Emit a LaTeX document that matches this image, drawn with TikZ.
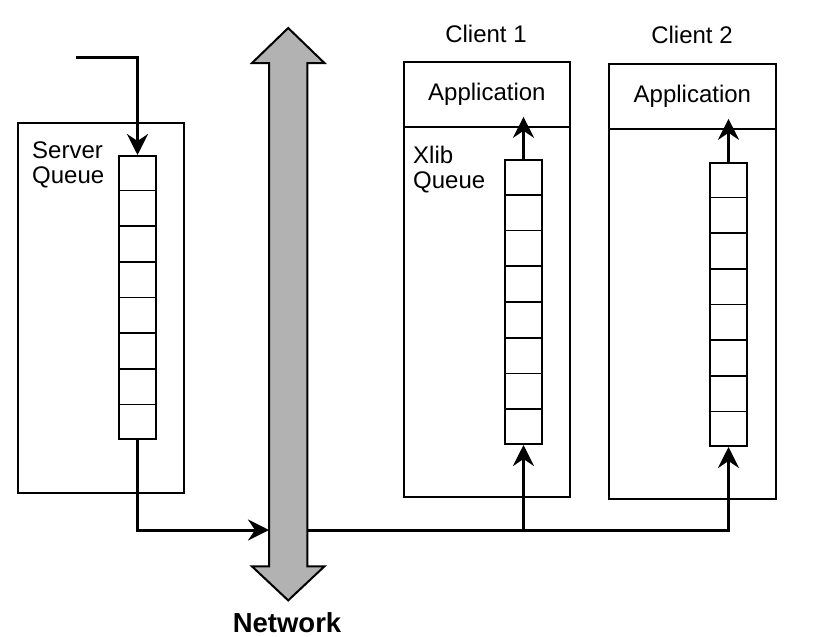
\documentclass[tikz,border=0pt]{standalone}
\usepackage{fontspec}
\setmainfont{Liberation Sans}
\usetikzlibrary{arrows.meta,calc}
\begin{document}
\begin{tikzpicture}[x=1pt,y=-1pt,
  box/.style={draw, line width=1.8pt, inner sep=0pt, anchor=north west},
  queue/.style={draw, line width=2pt, inner sep=0pt, minimum width=37pt, minimum height=284pt, anchor=north west, fill=white},
  cell/.style={line width=1.6pt},
  conn/.style={line width=3pt, -{Stealth[length=21pt,width=21pt,inset=7pt]}},
  lbl/.style={font=\fontsize{24}{25}\selectfont, inner sep=0pt},
  netfill/.style={draw, line width=2pt, fill=black!30, line join=miter},
]
\useasboundingbox (0,0) rectangle (833,637);

% Server
\node[box, minimum width=166pt, minimum height=370pt] (srv) at (17,122) {};
\node[queue, minimum height=283pt] (sq) at (118,155) {};
\node[lbl, anchor=north west, align=left] (sl) at (32,142) {Server\\Queue};

% Client 1
\node[box, minimum width=166pt, minimum height=435pt] (c1) at (403,61) {};
\node[box, lbl, minimum width=166pt, minimum height=65pt] (c1app) at (403,61) {Application};
\node[queue] (c1q) at (504,159) {};
\node[lbl, anchor=north west, align=left] (xl) at (413,146) {Xlib\\Queue};
\node[lbl, anchor=base] (t1) at (486,42) {Client 1};

% Client 2
\node[box, minimum width=167pt, minimum height=435pt] (c2) at (608,63) {};
\node[box, lbl, minimum width=167pt, minimum height=65pt] (c2app) at (608,63) {Application};
\node[queue, minimum height=283pt] (c2q) at (709,162) {};
\node[lbl, anchor=base] (t2) at (692,43) {Client 2};

% queue cells
\foreach \q in {sq,c1q,c2q}{
  \foreach \i in {1,...,7}{
    \draw[cell] ($(\q.north west)!\i/8!(\q.south west)$) -- ($(\q.north east)!\i/8!(\q.south east)$);
  }
}

% Network
\node[minimum width=38pt, minimum height=503pt, inner sep=0pt, anchor=north west] (net) at (269,63) {};
\draw[netfill] (net.north west) -- ([xshift=-17pt]net.north west) -- ([yshift=35pt]net.north)
  -- ([xshift=17pt]net.north east) -- (net.north east) -- (net.south east)
  -- ([xshift=17pt]net.south east) -- ([yshift=-34pt]net.south)
  -- ([xshift=-17pt]net.south west) -- (net.south west) -- cycle;
\node[font=\fontsize{27.5}{28}\selectfont\bfseries, anchor=base, inner sep=0pt] (netl) at (287,632) {Network};

% connectors
\coordinate (in) at (76,57);
\coordinate (bus) at (0,530);
\draw[conn] (in) -| (sq.north);
\draw[conn] (sq.south) |- (net.west |- bus);
\draw[conn] (net.east |- bus) -| (c2q.south);
\draw[conn] (c1q.south |- bus) -- (c1q.south);
\draw[conn, shorten >=-11pt] (c1q.north) -- (c1q.north |- c1app.south);
\draw[conn, shorten >=-11pt] (c2q.north) -- (c2q.north |- c2app.south);
\end{tikzpicture}
\end{document}
